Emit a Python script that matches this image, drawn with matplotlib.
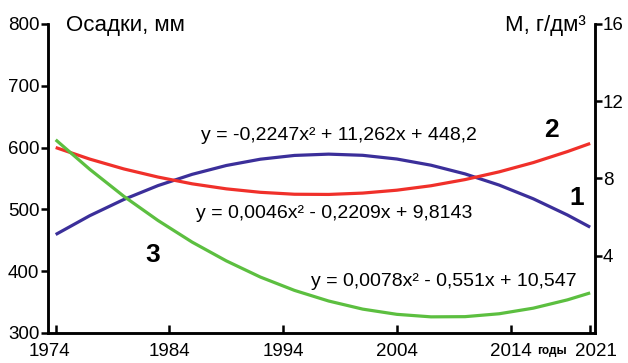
import matplotlib
matplotlib.use("Agg")
import matplotlib.pyplot as plt
import matplotlib.transforms as mtransforms

# years and trend values
years = [1974, 1977, 1980, 1983, 1986, 1989, 1992, 1995, 1998,
         2001, 2004, 2007, 2010, 2013, 2016, 2019, 2021]
# 1 - precipitation, mm (left axis)
precip = [459.2, 489.7, 516.0, 538.4, 556.6, 570.9, 581.1, 587.2, 589.3,
          587.4, 581.4, 571.4, 557.3, 539.2, 517.0, 490.8, 471.1]
# 2 - M, g/dm3 (right axis)
m_red = [9.60, 9.00, 8.49, 8.07, 7.72, 7.46, 7.28, 7.18, 7.17,
         7.24, 7.39, 7.62, 7.94, 8.34, 8.82, 9.39, 9.81]
# 3 - M, g/dm3 (right axis)
m_green = [10.00, 8.47, 7.07, 5.82, 4.70, 3.73, 2.89, 2.20, 1.65,
           1.23, 0.96, 0.83, 0.84, 0.99, 1.28, 1.71, 2.07]

xticks = [1974, 1984, 1994, 2004, 2014, 2021]

plt.rcParams['font.family'] = ['Liberation Sans', 'DejaVu Sans']

fig = plt.figure(figsize=(6.28, 3.63), dpi=100)
ax = fig.add_axes([0.076, 0.083, 0.871, 0.851])
ax2 = ax.twinx()

ax.plot(years, precip, color='#3b2f9a', lw=2.3, solid_capstyle='butt')
ax2.plot(years, m_red, color='#f0302a', lw=2.3, solid_capstyle='butt')
ax2.plot(years, m_green, color='#5cbf40', lw=2.3, solid_capstyle='butt')

ax.set_xlim(1973.3, 2021.4)
ax.set_ylim(300, 800)
ax2.set_ylim(0, 16)
ax.set_xticks(xticks)
ax.set_yticks([300, 400, 500, 600, 700, 800])
ax2.set_yticks([4, 8, 12, 16])

for a in (ax, ax2):
    a.spines['top'].set_visible(False)
    for s in a.spines.values():
        s.set_linewidth(1.8)
ax.tick_params(axis='y', direction='out', length=5, width=1.8, labelsize=13.5, pad=1)
ax.tick_params(axis='x', direction='in', length=6, width=1.8, labelsize=13.5, pad=7)
ax2.tick_params(axis='y', direction='out', length=5, width=1.8, labelsize=13.5, pad=1)

# end year labels sit a little outward, as in the original
labels = ax.get_xticklabels()
labels[0].set_transform(labels[0].get_transform() +
                        mtransforms.ScaledTranslation(-6 / 100, 0, fig.dpi_scale_trans))
labels[-1].set_transform(labels[-1].get_transform() +
                         mtransforms.ScaledTranslation(6 / 100, 0, fig.dpi_scale_trans))

fig.text(0.105, 0.93, 'Осадки, мм', fontsize=16, va='center')
fig.text(0.933, 0.93, 'M, г/дм³', fontsize=16, va='center', ha='right')

eq = dict(fontsize=14, ha='center', va='center')
ax.text(1998.9, 620, 'y = -0,2247x² + 11,262x + 448,2', **eq)
ax.text(1998.5, 493, 'y = 0,0046x² - 0,2209x + 9,8143', **eq)
ax.text(2008.1, 383, 'y = 0,0078x² - 0,551x + 10,547', **eq)

num = dict(fontsize=19, fontweight='bold', ha='center', va='center')
ax.text(2019.8, 518, '1', **num)
ax.text(2017.6, 628, '2', **num)
ax.text(1982.5, 426, '3', **num)

ax.text(2017.6, 270, 'годы', fontsize=8.5, fontweight='bold', ha='center', va='center',
        clip_on=False)

fig.savefig('out.png', dpi=100)
